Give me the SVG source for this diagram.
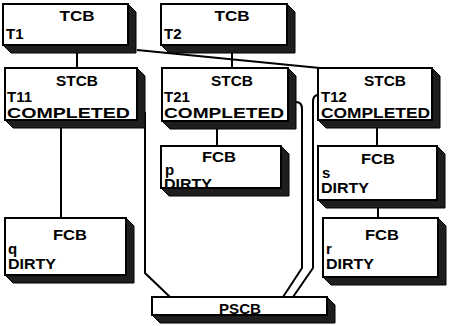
<svg xmlns="http://www.w3.org/2000/svg" width="449" height="326" viewBox="0 0 449 326">
<style>
.face{fill:#fff;stroke:#000;stroke-width:2}
.side{fill:#1e1e1e;stroke:#000;stroke-width:1}
.t{font-family:"Liberation Sans",Arial,Helvetica,sans-serif;font-weight:bold;font-size:15px;fill:#000}
.c{fill:none;stroke:#000;stroke-width:2}
</style>
<rect width="449" height="326" fill="#fff"/>
<g id="connectors">
<path class="c" d="M77,53 V68"/>
<path class="c" d="M137,50 L320,68"/>
<path class="c" d="M232,53 V68"/>
<path class="c" d="M61,128 V218"/>
<path class="c" d="M217,129 V146"/>
<path class="c" d="M377,128 V146"/>
<path class="c" d="M378,208 V218"/>
<path class="c" d="M145,112 V273 L170,297"/>
<path class="c" d="M296,102 Q302,102 302,109 V268 L283,297"/>
<path class="c" d="M318,95 Q313,95 313,102 V268 L293,297"/>
</g>
<g id="tcb-t1">
<polygon class="side" points="128,4 136,12 136,53 11,53 3,45 128,45"/>
<rect class="face" x="3" y="4" width="125" height="41"/>
<text class="t" x="77" y="21" text-anchor="middle" textLength="35" lengthAdjust="spacingAndGlyphs">TCB</text>
<text class="t" x="6" y="39">T1</text>
</g>
<g id="tcb-t2">
<polygon class="side" points="287,4 295,12 295,53 169,53 161,45 287,45"/>
<rect class="face" x="161" y="4" width="126" height="41"/>
<text class="t" x="232" y="21" text-anchor="middle" textLength="35" lengthAdjust="spacingAndGlyphs">TCB</text>
<text class="t" x="164" y="39">T2</text>
</g>
<g id="stcb-t11">
<polygon class="side" points="137,68 145,76 145,128 13,128 5,120 137,120"/>
<rect class="face" x="5" y="68" width="132" height="52"/>
<text class="t" x="77" y="86" text-anchor="middle" textLength="42" lengthAdjust="spacingAndGlyphs">STCB</text>
<text class="t" x="7" y="102">T11</text>
<text class="t" x="7" y="118" textLength="123" lengthAdjust="spacingAndGlyphs">COMPLETED</text>
</g>
<g id="stcb-t21">
<polygon class="side" points="288,68 296,76 296,129 170,129 162,121 288,121"/>
<rect class="face" x="162" y="68" width="126" height="53"/>
<text class="t" x="232" y="86" text-anchor="middle" textLength="42" lengthAdjust="spacingAndGlyphs">STCB</text>
<text class="t" x="164" y="102">T21</text>
<text class="t" x="164" y="118" textLength="120" lengthAdjust="spacingAndGlyphs">COMPLETED</text>
</g>
<g id="stcb-t12">
<polygon class="side" points="432,68 440,76 440,128 326,128 318,120 432,120"/>
<rect class="face" x="318" y="68" width="114" height="52"/>
<text class="t" x="385" y="86" text-anchor="middle" textLength="42" lengthAdjust="spacingAndGlyphs">STCB</text>
<text class="t" x="321" y="102">T12</text>
<text class="t" x="321" y="118" textLength="109" lengthAdjust="spacingAndGlyphs">COMPLETED</text>
</g>
<g id="fcb-p">
<polygon class="side" points="281,146 289,154 289,196 169,196 161,188 281,188"/>
<rect class="face" x="161" y="146" width="120" height="42"/>
<text class="t" x="219" y="162" text-anchor="middle" textLength="34" lengthAdjust="spacingAndGlyphs">FCB</text>
<text class="t" x="165" y="175">p</text>
<text class="t" x="164" y="189" textLength="48" lengthAdjust="spacingAndGlyphs">DIRTY</text>
</g>
<g id="fcb-s">
<polygon class="side" points="437,146 445,154 445,208 326,208 318,200 437,200"/>
<rect class="face" x="318" y="146" width="119" height="54"/>
<text class="t" x="378" y="164" text-anchor="middle" textLength="34" lengthAdjust="spacingAndGlyphs">FCB</text>
<text class="t" x="322" y="178">s</text>
<text class="t" x="321" y="193" textLength="48" lengthAdjust="spacingAndGlyphs">DIRTY</text>
</g>
<g id="fcb-q">
<polygon class="side" points="126,218 134,226 134,283 13,283 5,275 126,275"/>
<rect class="face" x="5" y="218" width="121" height="57"/>
<text class="t" x="70" y="240" text-anchor="middle" textLength="34" lengthAdjust="spacingAndGlyphs">FCB</text>
<text class="t" x="8" y="254">q</text>
<text class="t" x="8" y="269" textLength="48" lengthAdjust="spacingAndGlyphs">DIRTY</text>
</g>
<g id="fcb-r">
<polygon class="side" points="438,218 446,226 446,285 331,285 323,277 438,277"/>
<rect class="face" x="323" y="218" width="115" height="59"/>
<text class="t" x="382" y="240" text-anchor="middle" textLength="34" lengthAdjust="spacingAndGlyphs">FCB</text>
<text class="t" x="326" y="254">r</text>
<text class="t" x="326" y="269" textLength="48" lengthAdjust="spacingAndGlyphs">DIRTY</text>
</g>
<g id="pscb">
<polygon class="side" points="327,297 335,305 335,323 160,323 152,315 327,315"/>
<rect class="face" x="152" y="297" width="175" height="18"/>
<text class="t" x="240" y="314" text-anchor="middle" textLength="42" lengthAdjust="spacingAndGlyphs">PSCB</text>
</g>
</svg>
